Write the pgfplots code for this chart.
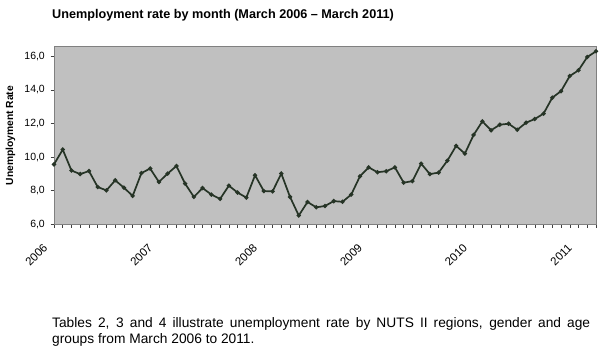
\documentclass[border=0pt]{standalone}
\usepackage{pgfplots}
\pgfplotsset{compat=1.18}
\usepackage{fontspec}
\setmainfont{Liberation Sans}
\definecolor{plotbg}{RGB}{192,192,192}
\definecolor{lineclr}{RGB}{38,52,38}
\definecolor{borderclr}{RGB}{128,128,128}
\begin{document}
\begin{tikzpicture}
\useasboundingbox (0,0) rectangle (600bp,358bp);
\begin{axis}[
  at={(54bp,133.7bp)}, anchor=south west,
  scale only axis, width=542bp, height=177.5bp,
  xmin=0, xmax=62, ymin=6, ymax=16.57,
  axis background/.style={fill=plotbg},
  axis line style={borderclr, line width=0.8bp},
  xtick={0,12,24,36,48,60},
  xticklabels={2006,2007,2008,2009,2010,2011},
  minor xtick={0,...,62},
  ytick={6,8,10,12,14,16},
  tick align=outside,
  xtick pos=bottom, ytick pos=left,
  major tick length=3.5bp, minor tick length=3.5bp,
  tick style={black!75, line width=0.5bp},
  /pgf/number format/.cd, use comma, fixed, fixed zerofill, precision=1, assume math mode=true,
  /pgfplots/.cd,
  yticklabel style={font=\fontsize{10.5}{12}\selectfont, inner sep=0pt, xshift=-5.5bp},
  xticklabel style={font=\fontsize{11.5}{13}\selectfont, inner sep=0pt, xshift=-11.5bp, yshift=-15bp, rotate=45, anchor=north east},
  ylabel={\bfseries Unemployment Rate},
  every axis y label/.style={at={(rel axis cs:0,0.5)}, xshift=-43.5bp, rotate=90, anchor=center, font=\fontsize{10.3}{12}\selectfont},
]
\addplot[color=lineclr, line width=1.7bp, mark=*, mark size=1.2bp, mark options={fill=lineclr}] coordinates {
(0,9.57) (1,10.45) (2,9.20) (3,8.99) (4,9.17) (5,8.22) (6,8.02) (7,8.62) (8,8.18) (9,7.69)
(10,9.05) (11,9.32) (12,8.52) (13,9.02) (14,9.47) (15,8.42) (16,7.63) (17,8.16) (18,7.77) (19,7.51)
(20,8.30) (21,7.89) (22,7.59) (23,8.92) (24,7.98) (25,7.96) (26,9.02) (27,7.63) (28,6.52) (29,7.33)
(30,7.01) (31,7.09) (32,7.38) (33,7.34) (34,7.77) (35,8.86) (36,9.39) (37,9.10) (38,9.16) (39,9.39)
(40,8.48) (41,8.57) (42,9.61) (43,8.99) (44,9.08) (45,9.79) (46,10.67) (47,10.21) (48,11.32) (49,12.13)
(50,11.60) (51,11.93) (52,11.99) (53,11.63) (54,12.05) (55,12.27) (56,12.59) (57,13.54) (58,13.93) (59,14.83)
(60,15.17) (61,15.96) (62,16.30)
};
\end{axis}
\node[anchor=west, inner sep=0pt, font=\bfseries\fontsize{12.7}{14}\selectfont] at (52bp,343bp) {Unemployment rate by month (March 2006 – March 2011)};
\node[anchor=north west, inner sep=0pt, font=\fontsize{13.8}{16.5}\selectfont] at (52bp,41bp) {\parbox[t]{538bp}{Tables 2, 3 and 4 illustrate unemployment rate by NUTS II regions, gender and age\linebreak groups from March 2006 to 2011.}};
\end{tikzpicture}
\end{document}
